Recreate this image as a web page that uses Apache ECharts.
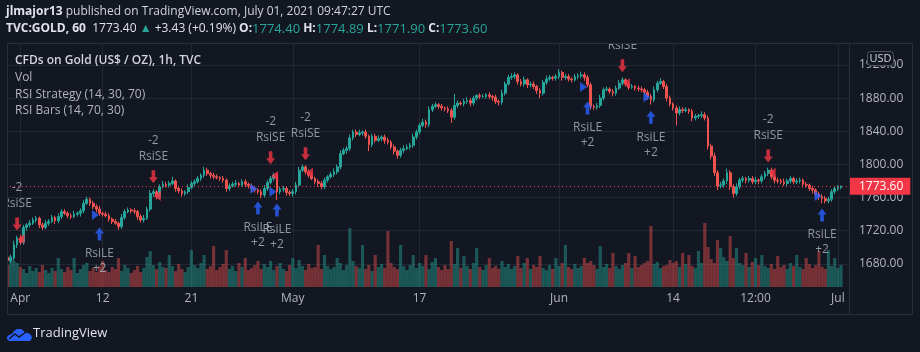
<!DOCTYPE html>
<html><head><meta charset="utf-8">
<script src="https://cdn.jsdelivr.net/npm/echarts@6/dist/echarts.min.js"></script>
<style>html,body{margin:0;padding:0;background:#131722;}#c{width:920px;height:352px;}</style>
</head><body><div id="c"></div>
<script>
// ---------- DATA ----------
const tradingDays = [
  ['2021-03-31',4],['2021-04-01',4],['2021-04-02',2],
  ['2021-04-05',4],['2021-04-06',4],['2021-04-07',4],['2021-04-08',4],['2021-04-09',4],
  ['2021-04-12',4],['2021-04-13',4],['2021-04-14',4],['2021-04-15',4],['2021-04-16',4],
  ['2021-04-19',4],['2021-04-20',4],['2021-04-21',4],['2021-04-22',4],['2021-04-23',4],
  ['2021-04-26',4],['2021-04-27',4],['2021-04-28',4],['2021-04-29',4],['2021-04-30',4],
  ['2021-05-03',4],['2021-05-04',4],['2021-05-05',4],['2021-05-06',4],['2021-05-07',4],
  ['2021-05-10',4],['2021-05-11',4],['2021-05-12',4],['2021-05-13',4],['2021-05-14',4],
  ['2021-05-17',4],['2021-05-18',4],['2021-05-19',4],['2021-05-20',4],['2021-05-21',4],
  ['2021-05-24',4],['2021-05-25',4],['2021-05-26',4],['2021-05-27',4],['2021-05-28',4],
  ['2021-05-31',4],['2021-06-01',4],['2021-06-02',4],['2021-06-03',4],['2021-06-04',4],
  ['2021-06-07',4],['2021-06-08',4],['2021-06-09',4],['2021-06-10',4],['2021-06-11',4],
  ['2021-06-14',4],['2021-06-15',4],['2021-06-16',4],['2021-06-17',4],['2021-06-18',4],
  ['2021-06-21',4],['2021-06-22',4],['2021-06-23',4],['2021-06-24',4],['2021-06-25',4],
  ['2021-06-28',4],['2021-06-29',4],['2021-06-30',4],['2021-07-01',4]
];
const barHours = ['00:00','06:00','12:00','18:00'];
const tickLabels = {
  '2021-04-01 00:00':'Apr','2021-04-12 00:00':'12','2021-04-21 00:00':'21',
  '2021-05-03 00:00':'May','2021-05-17 00:00':'17','2021-06-01 00:00':'Jun',
  '2021-06-14 00:00':'14','2021-06-22 12:00':'12:00','2021-07-01 00:00':'Jul'
};
const firstOpen = 1688;
const closes = [
  1684,1687,1703,1711,1706,1724,1727,1729,1733,1735,
  1727,1724,1729,1731,1736,1732,1737,1743,1741,1738,
  1737,1740,1741,1744,1753,1758,1753,1749,1746,1741,
  1740,1738,1734,1731,1729,1725,1736,1743,1745,1744,
  1743,1737,1733,1735,1746,1765,1767,1761,1773,1776,
  1775,1777,1780,1771,1768,1765,1767,1772,1777,1779,
  1783,1787,1793,1789,1787,1785,1784,1783,1781,1771,
  1774,1776,1777,1775,1779,1776,1774,1771,1769,1767,
  1763,1771,1778,1783,1787,1767,1770,1771,1766,1765,
  1767,1775,1793,1797,1791,1787,1783,1779,1777,1773,
  1781,1785,1788,1791,1797,1813,1817,1819,1832,1839,
  1836,1838,1839,1834,1824,1834,1829,1831,1833,1829,
  1827,1821,1816,1811,1817,1819,1821,1823,1833,1839,
  1847,1851,1848,1866,1870,1872,1870,1868,1867,1865,
  1857,1871,1874,1873,1876,1877,1874,1880,1883,1882,
  1882,1884,1882,1881,1876,1875,1886,1897,1905,1906,
  1908,1900,1897,1902,1896,1897,1894,1889,1886,1899,
  1903,1905,1904,1906,1911,1905,1906,1903,1902,1906,
  1907,1908,1905,1896,1870,1869,1871,1880,1890,1891,
  1888,1886,1892,1898,1902,1897,1893,1894,1892,1891,
  1890,1887,1882,1878,1890,1898,1900,1894,1880,1873,
  1868,1862,1866,1865,1866,1864,1856,1858,1859,1860,
  1856,1822,1810,1790,1774,1775,1780,1790,1773,1765,
  1773,1781,1783,1781,1783,1779,1781,1780,1785,1789,
  1793,1785,1781,1780,1779,1777,1780,1783,1779,1780,
  1781,1776,1775,1771,1769,1764,1761,1759,1756,1758,
  1767,1771,1772,1773.6
];
const wickHigh = [
  3,4,5,3,4,3,2,4,3,3, 2,3,4,3,3,2,4,3,3,2, 3,4,2,3,4,3,2,3,3,4, 2,3,3,2,3,2,4,3,3,2,
  3,2,3,4,3,4,3,2,3,4, 3,3,5,2,3,3,2,4,3,3, 3,2,4,3,2,3,3,2,3,2, 3,3,4,2,3,3,2,3,3,2,
  3,4,3,3,3,2,3,3,2,3, 3,4,4,3,2,3,3,2,3,3, 3,2,3,4,3,4,3,3,4,3, 3,4,2,3,2,3,3,4,2,3,
  3,2,3,2,3,4,3,3,4,3, 3,4,3,4,3,3,2,3,2,3, 3,14,3,2,3,4,3,3,2,3, 3,2,3,2,3,2,4,3,3,4,
  3,2,3,4,2,3,3,2,3,3, 4,3,2,3,4,2,3,3,2,3, 3,4,3,3,3,2,3,4,3,3, 2,3,3,4,3,2,3,3,2,3,
  3,2,3,3,4,3,4,2,3,3, 2,3,4,3,3,2,3,3,2,4, 3,3,3,4,3,4,3,5,3,3, 4,3,3,2,3,3,4,2,3,3,
  3,3,2,3,3,4,3,3,2,3, 3,2,3,2,3,2,3,3,3,3, 3,3,3,1
];
const wickLow = [
  5,3,3,4,3,3,4,3,2,3, 4,3,2,3,2,4,3,3,2,3, 3,2,3,4,3,2,3,3,4,3, 3,2,3,3,2,4,3,3,2,3,
  3,4,3,3,2,3,4,3,3,2, 3,3,2,4,3,4,3,3,2,3, 2,3,3,3,4,3,2,3,3,4, 3,2,3,3,2,3,3,4,3,3,
  4,3,3,2,3,10,3,3,4,3, 4,3,3,2,3,3,2,3,4,3, 3,3,2,3,3,3,2,4,3,3, 3,2,3,3,8,3,3,2,3,4,
  3,3,4,4,3,3,2,3,3,3, 3,2,4,3,3,2,3,3,3,3, 7,3,3,2,3,3,4,3,3,3, 2,3,3,4,3,4,3,3,2,3,
  3,4,3,3,4,3,3,4,6,3, 3,2,3,3,3,4,3,3,3,2, 3,3,4,3,4,3,3,3,3,2, 3,4,3,2,3,3,3,2,3,3,
  3,3,4,6,3,3,2,3,4,3, 3,15,3,3,2,3,4,3,3,3, 3,4,4,4,5,3,3,4,4,5, 3,3,3,4,3,3,3,4,3,3,
  3,3,4,3,3,3,4,3,3,3, 3,4,3,3,4,3,4,6,3,3, 3,3,3,2
];
const volumes = [
  22,31,26,24,20,18,14,21,16,19, 15,22,17,14,19,16,29,18,15,20, 17,29,14,18,22,24,16,19,15,21,
  26,17,15,20,18,29,16,22,19,14, 17,21,15,19,30,36,22,18,25,20, 19,32,21,16,23,18,15,20,37,22,
  19,24,32,18,21,41,17,20,23,37, 18,21,16,24,20,29,17,19,22,26, 18,23,20,26,17,21,24,18,16,22,
  29,19,27,21,17,23,19,20,42,18, 32,21,18,20,29,24,17,22,59,26, 21,19,42,18,22,16,32,20,23,19,
  56,24,20,18,42,21,17,22,32,19, 24,21,32,18,25,29,20,17,22,18, 46,23,39,19,31,21,18,24,39,20,
  17,22,29,19,21,18,26,20,23,18, 21,31,19,24,29,18,22,20,31,19, 17,22,18,29,21,24,42,20,18,23,
  19,21,29,24,26,22,18,41,20,23, 19,34,21,18,22,24,34,19,31,20, 22,24,26,61,23,25,19,21,22,27,
  24,26,20,34,23,32,21,19,36,24, 64,40,28,24,47,39,30,26,51,29, 39,24,22,34,20,25,29,22,32,21,
  19,23,18,31,20,22,18,24,21,32, 20,18,29,23,19,22,36,20,18,37, 21,29,19,22
];
const lastPrice = 1773.6;
// strategy signals: bar index, arrow price level, triangle price level
const shortBars = [3, 46, 83, 94, 194, 240];
const shortArrow = [1728, 1785, 1808, 1813, 1919, 1810];
const shortTri = [1710, 1762, 1786, 1790, 1898, 1790];
const longBars = [29, 79, 85, 183, 203, 257];
const longArrow = [1716, 1747.5, 1745, 1868, 1857, 1739];
const longTri = [1739, 1770.5, 1767, 1893.5, 1881, 1762];

// ---------- BUILD ----------
const categories = [];
tradingDays.forEach(([d, n]) => { for (let h = 0; h < n; h++) categories.push(d + ' ' + barHours[h]); });
const candles = closes.map((c, i) => {
  const o = i === 0 ? firstOpen : closes[i - 1];
  return [o, c, Math.min(o, c) - wickLow[i], Math.max(o, c) + wickHigh[i]];
});
const UP = '#26a69a', DOWN = '#ef5350', RED = '#f23645', BLUE = '#2962ff';
const TXT = '#b2b5be', GRID = '#232733', BG = '#131722';
const FONT = '"Open Sans", "Noto Sans", sans-serif';
const volData = volumes.map((v, i) => ({
  value: v,
  itemStyle: { color: candles[i][1] >= candles[i][0] ? 'rgba(38,166,154,0.45)' : 'rgba(239,83,80,0.45)' }
}));
const isTick = (i, v) => Object.prototype.hasOwnProperty.call(tickLabels, v);
const L = 6, R = 71;

const chart = echarts.init(document.getElementById('c'));
chart.setOption({
  backgroundColor: BG,
  animation: false,
  textStyle: { fontFamily: FONT },
  grid: [
    { left: L, right: R, top: 31.8, bottom: 55 },
    { left: L, right: R, top: 43, bottom: 65 }
  ],
  xAxis: [
    { type: 'category', gridIndex: 0, data: categories, show: false },
    { type: 'category', gridIndex: 1, data: categories,
      axisLine: { show: false }, axisTick: { show: false },
      axisLabel: { interval: isTick, formatter: v => tickLabels[v] || '', color: TXT, fontSize: 12, margin: 6, fontFamily: FONT },
      splitLine: { show: true, interval: isTick, alignWithLabel: true, lineStyle: { color: GRID, width: 1 } } }
  ],
  yAxis: [
    { type: 'value', gridIndex: 0, position: 'right', min: 1640, max: 1960, interval: 40,
      axisLine: { show: false }, axisTick: { show: false },
      axisLabel: { formatter: v => v.toFixed(2), color: TXT, fontSize: 12, margin: 10, showMinLabel: false, showMaxLabel: false, fontFamily: FONT },
      splitLine: { lineStyle: { color: GRID, width: 1 }, showMinLine: false, showMaxLine: false } },
    { type: 'value', gridIndex: 1, min: 0, max: 244, show: false }
  ],
  series: [
    { type: 'bar', xAxisIndex: 1, yAxisIndex: 1, data: volData, barWidth: '100%', z: 1, silent: true },
    { type: 'candlestick', xAxisIndex: 0, yAxisIndex: 0, data: candles, barWidth: '70%', z: 3,
      itemStyle: { color: UP, color0: DOWN, borderColor: UP, borderColor0: DOWN, borderWidth: 1 },
      markLine: { symbol: 'none', silent: true, animation: false,
        lineStyle: { color: RED, type: [1, 3], width: 1 },
        label: { show: true, position: 'end', distance: 0, formatter: p => p.value.toFixed(2),
          color: '#ffffff', backgroundColor: RED, fontSize: 12, fontFamily: FONT,
          padding: [2, 7, 2, 10], lineHeight: 13, borderRadius: 0 },
        data: [{ yAxis: lastPrice }] } },
    { type: 'scatter', xAxisIndex: 0, yAxisIndex: 0, z: 5,
      data: shortBars.map((b, k) => [b, shortArrow[k]]),
      symbol: 'path://M3,0 L7,0 L7,7 L10,7 L5,13 L0,7 L3,7 Z', symbolSize: [9, 13],
      itemStyle: { color: RED },
      label: { show: true, position: 'top', distance: 6, formatter: '-2\nRsiSE', color: TXT, fontSize: 12, lineHeight: 16, fontFamily: FONT } },
    { type: 'scatter', xAxisIndex: 0, yAxisIndex: 0, z: 5,
      data: longBars.map((b, k) => [b, longArrow[k]]),
      symbol: 'path://M5,0 L10,6 L7,6 L7,13 L3,13 L3,6 L0,6 Z', symbolSize: [9, 13],
      itemStyle: { color: BLUE },
      label: { show: true, position: 'bottom', distance: 6, formatter: 'RsiLE\n+2', color: TXT, fontSize: 12, lineHeight: 15, fontFamily: FONT } },
    { type: 'scatter', xAxisIndex: 0, yAxisIndex: 0, z: 5,
      data: shortBars.map((b, k) => [b, shortTri[k]]),
      symbol: 'path://M8,0 L8,10 L0,5 Z', symbolSize: [7, 10], symbolOffset: [4, 0],
      itemStyle: { color: RED } },
    { type: 'scatter', xAxisIndex: 0, yAxisIndex: 0, z: 5,
      data: longBars.map((b, k) => [b, longTri[k]]),
      symbol: 'path://M0,0 L8,5 L0,10 Z', symbolSize: [7, 10], symbolOffset: [-4, 0],
      itemStyle: { color: BLUE } }
  ],
  graphic: [
    { type: 'rect', z: 90, shape: { x: 0, y: 0, width: 920, height: 43 }, style: { fill: BG } },
    { type: 'rect', z: 90, shape: { x: 0, y: 43, width: 7, height: 272 }, style: { fill: BG } },
    { type: 'rect', z: 95, shape: { x: 7.5, y: 43.5, width: 905, height: 271 }, style: { fill: 'none', stroke: '#2a2e39', lineWidth: 1 } },
    { type: 'line', z: 95, shape: { x1: 849.5, y1: 43, x2: 849.5, y2: 315 }, style: { stroke: '#2a2e39', lineWidth: 1 } },
    { type: 'text', z: 100, x: 6, y: 12, style: {
      text: '{b|jlmajor13} published on TradingView.com, July 01, 2021 09:47:27 UTC',
      fill: '#d1d4dc', font: '12px ' + FONT, verticalAlign: 'middle',
      rich: { b: { fontWeight: 'bold', fill: '#e0e3eb', fontSize: 12, fontFamily: FONT } } } },
    { type: 'text', z: 100, x: 6, y: 29, style: {
      text: '{b|TVC:GOLD, 60}  1773.40 {g|▲} +3.43 (+0.19%) {b|O:}{v|1774.40} {b|H:}{v|1774.89} {b|L:}{v|1771.90} {b|C:}{v|1773.60}',
      fill: '#e0e3eb', font: '12px ' + FONT, verticalAlign: 'middle',
      rich: { b: { fontWeight: 'bold', fill: '#e0e3eb', fontSize: 12, fontFamily: FONT },
              g: { fill: UP, fontSize: 12, fontFamily: FONT },
              v: { fill: UP, fontSize: 13, fontFamily: FONT } } } },
    { type: 'text', z: 100, x: 15, y: 61, style: { text: 'CFDs on Gold (US$ / OZ), 1h, TVC', fill: '#d1d4dc', font: '600 12px ' + FONT, verticalAlign: 'middle' } },
    { type: 'text', z: 100, x: 15, y: 78, style: { text: 'Vol', fill: TXT, font: '12px ' + FONT, verticalAlign: 'middle' } },
    { type: 'text', z: 100, x: 15, y: 94.5, style: { text: 'RSI Strategy (14, 30, 70)', fill: TXT, font: '12px ' + FONT, verticalAlign: 'middle' } },
    { type: 'text', z: 100, x: 15, y: 111, style: { text: 'RSI Bars (14, 70, 30)', fill: TXT, font: '12px ' + FONT, verticalAlign: 'middle' } },
    { type: 'rect', z: 100, shape: { x: 867.5, y: 51.5, width: 26, height: 14, r: 3 }, style: { fill: BG, stroke: '#50535e', lineWidth: 1 } },
    { type: 'text', z: 101, x: 880.5, y: 58.5, style: { text: 'USD', fill: '#d1d4dc', font: '11px ' + FONT, align: 'center', verticalAlign: 'middle' } },
    { type: 'polygon', z: 100, x: 6, y: 326, shape: { points: [[3,15],[1,13],[1,11],[3,9],[6,8],[8,5],[11,3],[15,3],[18,5],[19,7],[22,7],[25,9],[26,12],[24,15]] }, style: { fill: BLUE } },
    { type: 'polyline', z: 101, x: 6, y: 326, shape: { points: [[3, 13], [9, 8], [13, 11], [20, 6]] }, style: { stroke: BG, lineWidth: 1.5, fill: 'none' } },
    { type: 'text', z: 100, x: 33, y: 333, style: { text: 'TradingView', fill: '#e0e3eb', font: '13px ' + FONT, verticalAlign: 'middle' } }
  ]
});
</script></body></html>
